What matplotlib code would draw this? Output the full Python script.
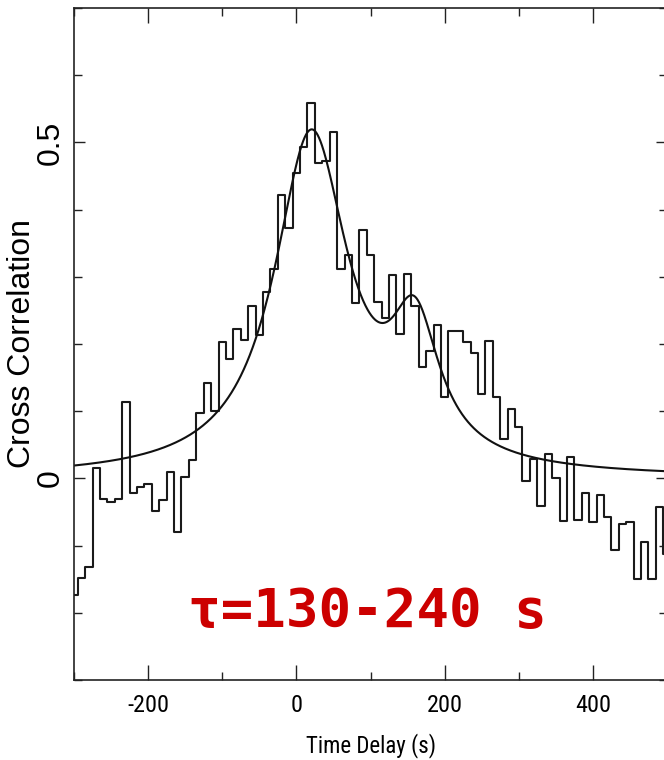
import numpy as np
import matplotlib
matplotlib.use("Agg")
import matplotlib.pyplot as plt
from matplotlib.ticker import MultipleLocator
from matplotlib import font_manager

plt.rcParams["axes.unicode_minus"] = False

# Cross-correlation histogram: bin centres (s) and values
lag = np.arange(-300, 501, 10)
ccf = [
    -0.173, -0.148, -0.132, 0.015, -0.030, -0.035, -0.030, 0.114, -0.022, -0.013,
    -0.008, -0.049, -0.032, 0.009, -0.080, 0.002, 0.027, 0.097, 0.142, 0.101,
    0.203, 0.178, 0.223, 0.206, 0.257, 0.213, 0.277, 0.311, 0.422, 0.372,
    0.454, 0.493, 0.558, 0.469, 0.472, 0.515, 0.311, 0.332, 0.261, 0.369,
    0.333, 0.262, 0.239, 0.302, 0.215, 0.304, 0.257, 0.166, 0.190, 0.229,
    0.121, 0.220, 0.220, 0.203, 0.186, 0.125, 0.204, 0.121, 0.058, 0.104,
    0.077, -0.004, 0.029, -0.041, 0.036, 0.000, -0.064, 0.032, -0.062, -0.022,
    -0.065, -0.025, -0.058, -0.106, -0.068, -0.065, -0.149, -0.095, -0.149, -0.042,
    -0.113,
]

# Two-Lorentzian model fitted to the correlation
peak_amp = [0.505, 0.19]
peak_pos = [20.0, 160.0]
peak_width = [61.0, 40.0]

xtick_vals = [-200, 0, 200, 400]
ytick_vals = [0, 0.5]
ytick_labels = ["0", "0.5"]

sans = ["Liberation Sans", "DejaVu Sans"]

# a condensed face for the horizontal axis text, if one is available
installed = {f.name for f in font_manager.fontManager.ttflist}
narrow_face = None
for cand in ["Roboto Condensed", "Liberation Sans Narrow", "Open Sans Condensed", "DejaVu Sans Condensed"]:
    if cand in installed:
        narrow_face = cand
        break
if narrow_face is not None:
    xtick_font = dict(family=[narrow_face] + sans, fontsize=17.5)
    xlabel_font = dict(family=[narrow_face] + sans, fontsize=16.5)
else:
    xtick_font = dict(family=sans, fontsize=15.5)
    xlabel_font = dict(family=sans, fontsize=14.5)

fig = plt.figure(figsize=(6.64, 7.6), dpi=100)
ax = fig.add_axes([74 / 664, 80 / 760, 593 / 664, 672 / 760])

ax.step(lag, ccf, where="mid", color="#1a1a1a", lw=1.5)

xs = np.linspace(-300, 500, 1601)
model = np.zeros_like(xs)
for a, p, w in zip(peak_amp, peak_pos, peak_width):
    model += a / (1.0 + ((xs - p) / w) ** 2)
ax.plot(xs, model, color="#111111", lw=1.5)

ax.set_xlim(-300, 500)
ax.set_ylim(-0.3, 0.7)

ax.set_xticks(xtick_vals)
ax.set_xticklabels([str(v) for v in xtick_vals], **xtick_font)
ax.xaxis.set_minor_locator(MultipleLocator(100))
ax.set_yticks(ytick_vals)
ax.set_yticklabels(ytick_labels, family=sans, fontsize=23, rotation=90, va="center")
ax.yaxis.set_minor_locator(MultipleLocator(0.1))

ax.tick_params(which="both", direction="in", top=True, right=True, width=1.0, color="#222222")
ax.tick_params(axis="x", which="major", length=11, pad=10)
ax.tick_params(axis="x", which="minor", length=6)
ax.tick_params(axis="y", which="major", length=8, pad=6)
ax.tick_params(axis="y", which="minor", length=5.5)

for s in ax.spines.values():
    s.set_linewidth(1.2)
    s.set_color("#222222")

ax.set_xlabel("Time Delay (s)", **xlabel_font)
ax.xaxis.set_label_coords(0.5, -0.079)
ax.xaxis.label.set_va("top")
ax.set_ylabel("Cross Correlation", family=sans, fontsize=23)
ax.yaxis.set_label_coords(-0.087, 0.5)
ax.yaxis.label.set_va("center")

ax.text(0.494, 0.101, "τ=130-240 s", transform=ax.transAxes, ha="center", va="center",
        color="#cc0000", fontsize=39, fontweight="bold", family="DejaVu Sans Mono")

fig.savefig("out.png", dpi=100)
